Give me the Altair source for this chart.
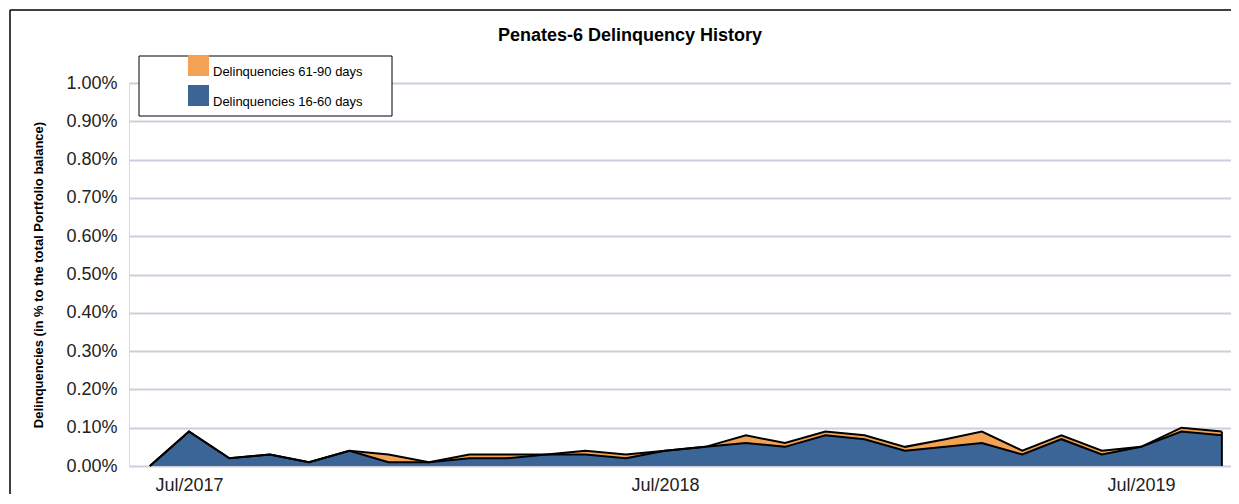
import altair as alt
import pandas as pd

months = [
    "2017-06", "2017-07", "2017-08", "2017-09", "2017-10", "2017-11", "2017-12",
    "2018-01", "2018-02", "2018-03", "2018-04", "2018-05", "2018-06", "2018-07",
    "2018-08", "2018-09", "2018-10", "2018-11", "2018-12", "2019-01", "2019-02",
    "2019-03", "2019-04", "2019-05", "2019-06", "2019-07", "2019-08", "2019-09",
]
# values in percent of total portfolio balance
d16_60 = [0.00, 0.09, 0.02, 0.03, 0.01, 0.04, 0.01, 0.01, 0.02, 0.02, 0.03, 0.03,
          0.02, 0.04, 0.05, 0.06, 0.05, 0.08, 0.07, 0.04, 0.05, 0.06, 0.03, 0.07,
          0.03, 0.05, 0.09, 0.08]
d61_90 = [0.00, 0.00, 0.00, 0.00, 0.00, 0.00, 0.02, 0.00, 0.01, 0.01, 0.00, 0.01,
          0.01, 0.00, 0.00, 0.02, 0.01, 0.01, 0.01, 0.01, 0.02, 0.03, 0.01, 0.01,
          0.01, 0.00, 0.01, 0.01]
y_ticks = [0.0, 0.1, 0.2, 0.3, 0.4, 0.5, 0.6, 0.7, 0.8, 0.9, 1.0]
x_ticks = ["2017-07-01", "2018-07-01", "2019-07-01"]
title_text = "Penates-6 Delinquency History"

S_A = "Delinquencies 61-90 days"
S_B = "Delinquencies 16-60 days"
ORANGE = "#f2a252"
BLUE = "#3b6497"
FONT = "Liberation Sans"

df = pd.DataFrame({"month": pd.to_datetime(months), "b": d16_60, "o": d61_90})
df["total"] = df["b"] + df["o"]
df["zero"] = 0.0
one = pd.DataFrame({"t": [title_text]})

W, H = 1102, 383

x_scale = alt.Scale(domain=[alt.DateTime(year=2017, month=5, date=16),
                            alt.DateTime(year=2019, month=9, date=8)])
y_scale = alt.Scale(domain=[0, 1.0])

x_axis = alt.Axis(values=[pd.Timestamp(v).isoformat() for v in x_ticks],
                  format="%b/%Y", grid=False, domain=False, ticks=False,
                  labelFontSize=18, labelFont=FONT, labelColor="#222222",
                  labelPadding=10, title=None, labelFlush=False,
                  labelOverlap=False)
y_axis = alt.Axis(values=y_ticks, labelExpr="format(datum.value, '.2f') + '%'",
                  grid=True, gridColor="#cdcddc", gridWidth=2, domain=False,
                  ticks=False, labelFontSize=18, labelFont=FONT, labelColor="#222222",
                  labelPadding=12, labelOverlap=False,
                  title="Delinquencies (in % to the total Portfolio balance)",
                  titleFont=FONT, titleFontSize=13, titleFontWeight="bold",
                  titleColor="#000000", titleX=-91, titleY=H / 2,
                  titleAlign="center", titleBaseline="middle")


def X():
    return alt.X("month:T", scale=x_scale, axis=x_axis)


def Y(field):
    return alt.Y(field, scale=y_scale, axis=y_axis)


base = alt.Chart(df)

legend_box = alt.Chart(one).mark_rect(fill="white", stroke="black", strokeWidth=1).encode(
    x=alt.value(10), x2=alt.value(263), y=alt.value(-27), y2=alt.value(33))

area_b = base.transform_calculate(series=f"'{S_B}'").mark_area(opacity=1).encode(
    x=X(), y=Y("zero:Q"), y2="b:Q",
    color=alt.Color("series:N",
                    scale=alt.Scale(domain=[S_A, S_B], range=[ORANGE, BLUE]),
                    legend=alt.Legend(orient="none", legendX=10, legendY=-28,
                                      title=None, symbolType="square",
                                      symbolSize=441, symbolStrokeWidth=0,
                                      symbolOffset=49, labelOffset=4,
                                      rowPadding=6, padding=0, labelLimit=400,
                                      labelFont=FONT, labelFontSize=13,
                                      labelBaseline="top",
                                      labelColor="#000000", symbolOpacity=1)),
)
area_o = base.transform_calculate(series=f"'{S_A}'").mark_area(opacity=1).encode(
    x=X(), y=Y("b:Q"), y2="total:Q", color="series:N",
)
line_b = base.mark_line(color="black", strokeWidth=2).encode(x=X(), y=Y("b:Q"))
line_t = base.mark_line(color="black", strokeWidth=2).encode(x=X(), y=Y("total:Q"))
edge = base.transform_window(rn="row_number()", sort=[alt.SortField("month", order="descending")]
                             ).transform_filter("datum.rn == 1").mark_rule(
    color="black", strokeWidth=2).encode(x=X(), y=Y("zero:Q"), y2="total:Q")

frame_top = alt.Chart(one).mark_rule(color="black", strokeWidth=1.5).encode(
    x=alt.value(-119), x2=alt.value(W), y=alt.value(-73))
frame_left = alt.Chart(one).mark_rule(color="black", strokeWidth=1.5).encode(
    x=alt.value(-119), y=alt.value(-73), y2=alt.value(H + 40))
title_mark = alt.Chart(one).mark_text(font=FONT, fontSize=18, fontWeight="bold",
                                      color="#000000", align="center",
                                      baseline="alphabetic").encode(
    x=alt.value(501), y=alt.value(-42), text="t:N")

chart = alt.layer(legend_box, area_b, area_o, line_b, line_t, edge, frame_top,
                  frame_left, title_mark).properties(
    width=W, height=H,
    autosize=alt.AutoSizeParams(type="none"),
    padding={"left": 121, "top": 75, "right": 0, "bottom": 28},
).configure_view(stroke=None).configure(background="white")

chart.save("out.html", embed_options={"renderer": "svg", "actions": False})
